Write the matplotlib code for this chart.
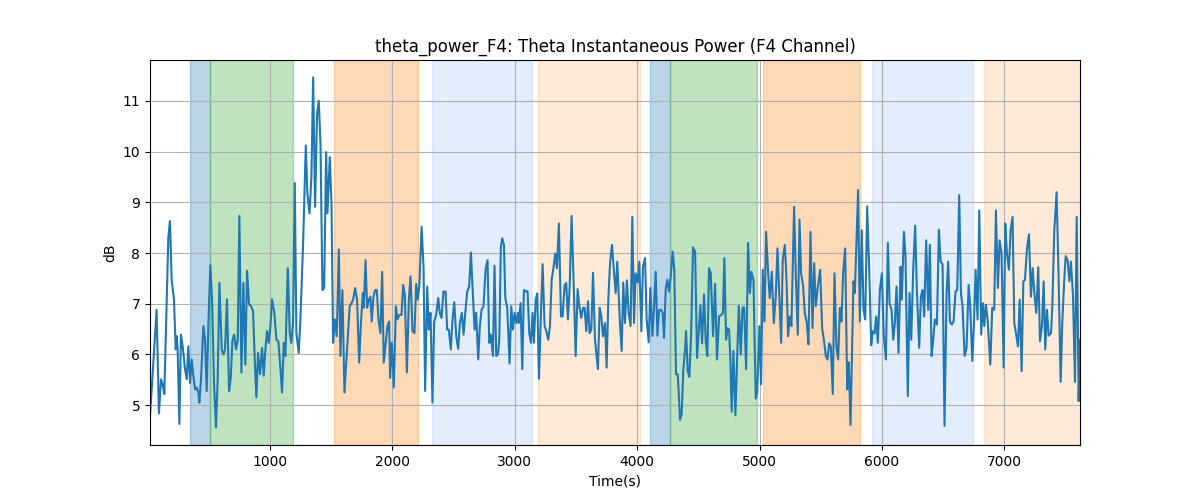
import numpy as np
import matplotlib
matplotlib.use("Agg")
import matplotlib.pyplot as plt

# tiempos (s) y potencia (dB)
t = [19, 73, 92, 109, 122, 136, 169, 182, 196, 215, 229, 237, 245, 259, 272, 286, 305, 319, 332, 346,
     360, 373, 387, 400, 414, 422, 436, 455, 469, 482, 499, 512, 526, 542, 558, 572, 586, 605, 618, 632,
     648, 665, 678, 692, 706, 722, 736, 749, 766, 782, 798, 812, 828, 845, 861, 875, 888, 902, 918, 935,
     948, 962, 975,
     989, 1003, 1016, 1035, 1052, 1068, 1085, 1098, 1112, 1125, 1145, 1161, 1174, 1188, 1202, 1215, 1234, 1248,
     1270, 1292, 1305, 1322, 1338, 1352, 1368, 1384, 1398, 1412, 1428, 1442, 1458, 1469, 1488, 1502, 1515,
     1529, 1545, 1562, 1575, 1591, 1608, 1624, 1641, 1651, 1665, 1679, 1695, 1711, 1728, 1741, 1758, 1766,
     1780, 1793, 1807, 1820, 1831, 1845, 1859, 1872, 1886, 1902, 1916, 1929,
     1959, 1973, 1981, 1995, 2011, 2028, 2041, 2055, 2074, 2088, 2101, 2118, 2134, 2148, 2164, 2180, 2194,
     2208, 2221, 2238, 2254, 2267, 2284, 2297, 2311, 2327, 2341, 2357, 2374, 2387, 2401, 2417, 2434, 2447,
     2461, 2477, 2491, 2505, 2521, 2537, 2551, 2567, 2581, 2595, 2611, 2627, 2641, 2657, 2671, 2684, 2701,
     2714, 2728, 2744, 2761, 2777, 2791, 2804, 2821, 2834, 2848, 2862, 2873, 2886,
     2897, 2911, 2922, 2938, 2957, 2971, 2984, 2998, 3012, 3025, 3033, 3047, 3061, 3074, 3091, 3104, 3118,
     3132, 3145, 3156, 3170, 3183, 3197, 3211, 3227, 3243, 3257, 3273, 3287, 3301, 3317, 3330, 3344, 3360,
     3377, 3390, 3407, 3420, 3434, 3448, 3464, 3483, 3497, 3513, 3527, 3543, 3557, 3570, 3584, 3598, 3611,
     3625, 3639, 3655, 3668, 3679, 3693, 3707, 3720, 3737, 3750, 3764, 3778, 3794, 3807, 3824, 3837,
     3859, 3873, 3886, 3900, 3916, 3930, 3946, 3960, 3974, 3987, 4004, 4017, 4034, 4047, 4064, 4077, 4094,
     4107, 4124, 4137, 4151, 4165, 4178, 4194, 4208, 4219, 4233, 4246, 4260, 4274, 4290, 4303, 4317, 4331,
     4339, 4350, 4363, 4377, 4391, 4399, 4413, 4426, 4440, 4456, 4473, 4489, 4503, 4516, 4530, 4546, 4560,
     4573, 4587, 4601, 4620, 4636, 4652, 4669, 4688, 4701, 4712, 4726, 4737, 4751, 4761, 4772, 4786,
     4802, 4830, 4846, 4860, 4873, 4890, 4906, 4920, 4933, 4950, 4960, 4969, 4980, 4999, 5012, 5026, 5040,
     5053, 5070, 5083, 5100, 5116, 5132, 5146, 5162, 5176, 5189, 5206, 5219, 5233, 5247, 5260, 5282, 5296,
     5312, 5326, 5339, 5356, 5369, 5386, 5399, 5416, 5432, 5446, 5459, 5476, 5495, 5511, 5527, 5541, 5555,
     5568, 5582, 5598, 5612, 5628, 5642, 5656, 5669, 5683, 5699, 5716, 5729, 5743,
     5767, 5778, 5805, 5819, 5835, 5849, 5863, 5879, 5895, 5912, 5923, 5939, 5953, 5966, 5983, 5999, 6015,
     6032, 6048, 6062, 6078, 6092, 6105, 6119, 6135, 6152, 6162, 6179, 6192, 6211, 6225, 6239, 6255, 6271,
     6285, 6304, 6318, 6331, 6345, 6361, 6378, 6391, 6405, 6419, 6432, 6449, 6465, 6479, 6495, 6511, 6528,
     6541, 6555, 6571, 6585, 6601, 6615, 6631, 6645, 6658, 6675, 6691, 6708,
     6721, 6738, 6751, 6765, 6781, 6795, 6811, 6825, 6836, 6849, 6863, 6885, 6901, 6917, 6931, 6947, 6961,
     6977, 6994, 7007, 7021, 7037, 7051, 7067, 7081, 7095, 7111, 7125, 7141, 7155, 7168, 7185, 7201, 7217,
     7231, 7245, 7261, 7277, 7291, 7307, 7321, 7334, 7348, 7362, 7381, 7392, 7408, 7427, 7443, 7460, 7473,
     7490, 7501, 7517, 7531, 7544, 7561, 7577, 7591, 7607, 7618]

db = [4.79, 6.88, 4.84, 5.51, 5.41, 5.22, 8.32, 8.63, 7.47, 7.08, 6.10, 6.36, 6.10, 4.63, 6.39, 6.16, 5.71, 5.51, 6.16, 5.44,
      5.90, 5.58, 5.31, 5.35, 5.25, 5.05, 5.51, 6.56, 6.29, 5.28, 6.82, 7.76, 7.08, 5.44, 4.56, 5.51, 7.41, 6.10, 6.00, 6.10,
      7.09, 5.28, 5.51, 6.26, 6.39, 6.10, 6.29, 8.73, 5.64, 7.41, 5.80, 7.65, 6.99, 6.95, 6.85, 5.90, 5.15, 6.03, 5.61, 6.13,
      5.58, 6.10, 6.46,
      6.23, 6.56, 7.09, 6.82, 6.29, 6.26, 5.71, 5.25, 6.23, 5.97, 7.70, 6.42, 6.23, 6.62, 9.38, 6.42, 6.03, 6.69,
      8.19, 10.12, 9.17, 8.78, 9.50, 11.46, 8.91, 10.74, 11.00, 10.15, 7.27, 7.31, 9.99, 8.78, 9.89, 8.97, 6.23,
      6.69, 6.36, 8.07, 5.97, 7.27, 5.25, 5.90, 6.56, 6.95, 7.01, 7.08, 7.31, 7.08, 5.84, 6.56, 7.21, 6.92,
      7.86, 6.92, 7.08, 7.14, 6.65, 7.14, 7.27, 7.27, 6.69, 6.42, 7.63, 5.84,
      6.56, 6.65, 5.54, 6.23, 5.35, 6.95, 6.69, 6.78, 6.78, 7.37, 7.18, 5.65, 7.08, 7.54, 6.46, 6.42, 7.39,
      7.08, 7.41, 8.52, 7.73, 5.28, 7.34, 6.49, 6.82, 5.05, 6.65, 6.78, 7.11, 6.82, 6.72, 7.24, 7.24, 6.49,
      6.49, 6.10, 6.69, 7.03, 6.36, 6.11, 6.62, 6.82, 6.39, 6.82, 7.24, 7.34, 8.01, 7.21, 6.49, 6.82, 5.90,
      6.56, 6.88, 6.95, 7.67, 7.86, 6.23, 6.39, 5.97, 7.75, 5.97, 6.00, 6.29, 8.12,
      8.29, 8.16, 7.11, 6.92, 5.82, 6.95, 6.49, 6.82, 6.62, 6.82, 6.62, 7.01, 5.71, 7.27, 7.24, 7.25, 6.42,
      6.23, 6.82, 6.23, 7.08, 7.20, 5.52, 6.62, 7.78, 6.56, 6.46, 6.29, 6.56, 7.47, 7.73, 7.99, 7.70, 8.58,
      6.75, 6.75, 7.37, 7.41, 6.69, 7.34, 8.73, 7.21, 5.97, 7.29, 6.95, 6.72, 6.92, 6.92, 6.46, 7.05, 6.42,
      6.49, 7.61, 6.29, 5.97, 5.71, 6.92, 6.75, 6.36, 6.62, 5.74, 7.08, 7.80, 8.16, 7.73, 7.21, 7.83,
      6.62, 6.07, 7.42, 6.62, 7.46, 6.82, 6.56, 8.71, 6.62, 7.60, 7.42, 7.83, 6.46, 7.73, 7.90, 6.69, 6.24,
      7.31, 6.37, 6.92, 7.63, 6.37, 6.87, 6.88, 6.82, 6.33, 7.29, 7.47, 7.24, 7.54, 8.03, 7.68, 5.61, 5.61,
      5.25, 4.71, 4.82, 5.71, 6.10, 6.46, 5.67, 5.56, 6.36, 8.11, 8.03, 5.93, 6.46, 6.97, 6.22, 7.18, 6.26,
      5.97, 7.70, 7.60, 6.36, 7.39, 5.90, 6.75, 6.78, 6.82, 7.90, 6.29, 6.52, 6.49, 5.90, 4.87, 6.07,
      4.80, 6.96, 6.00, 6.92, 6.93, 5.71, 8.20, 7.21, 7.63, 7.47, 6.16, 5.13, 5.25, 6.56, 5.41, 7.67, 6.65,
      8.42, 7.60, 7.11, 7.63, 6.62, 7.14, 8.09, 7.08, 6.23, 7.86, 8.16, 7.54, 6.36, 6.75, 6.56, 8.91, 7.54,
      6.39, 8.66, 7.60, 7.34, 6.82, 6.62, 6.20, 8.42, 6.52, 7.80, 6.95, 7.34, 7.67, 6.52, 6.26, 5.97, 5.90,
      6.22, 6.16, 5.22, 7.60, 6.13, 5.90, 6.92, 6.65, 7.63, 8.09, 5.31, 5.85, 4.61,
      7.44, 7.21, 9.24, 6.65, 8.45, 6.88, 6.69, 8.92, 7.73, 6.18, 6.46, 6.41, 6.75, 6.23, 7.27, 7.60, 6.36,
      5.90, 8.20, 7.01, 6.88, 6.29, 6.62, 7.34, 6.03, 7.73, 7.08, 8.42, 7.93, 5.18, 7.21, 6.29, 7.67, 8.54,
      7.27, 6.13, 7.14, 7.27, 6.75, 8.25, 6.88, 8.16, 5.97, 6.29, 6.69, 6.59, 8.46, 7.83, 7.78, 4.59, 7.21,
      7.83, 6.65, 6.59, 6.65, 7.24, 7.27, 9.14, 7.21, 6.95, 5.97, 6.13, 7.37,
      6.95, 5.87, 6.56, 7.67, 6.69, 8.84, 6.39, 7.01, 6.56, 6.98, 6.69, 5.80, 6.92, 6.88, 8.84, 7.31, 8.25,
      7.99, 5.74, 8.58, 7.99, 7.67, 8.45, 8.71, 6.62, 6.42, 6.16, 7.08, 5.67, 7.44, 7.47, 8.09, 8.37, 7.14,
      7.70, 7.21, 6.82, 7.72, 6.26, 6.56, 7.44, 6.10, 6.88, 6.37, 6.42, 6.95, 8.45, 9.20, 7.54, 5.46, 6.62,
      7.50, 7.94, 7.86, 7.44, 7.83, 7.14, 5.46, 8.71, 5.08, 6.29]

# intervalos sombreados: inicio, fin, color, alpha
span_start = [346, 509, 1524, 2325, 3192, 4107, 4271, 5030, 5915, 6830]
span_end = [509, 1188, 2211, 3143, 4026, 4271, 4982, 5823, 6740, 7700]
span_color = ['tab:blue', 'tab:green', 'tab:orange', 'cornflowerblue', 'tab:orange',
              'tab:blue', 'tab:green', 'tab:orange', 'cornflowerblue', 'tab:orange']
span_alpha = [0.3, 0.3, 0.3, 0.17, 0.16, 0.3, 0.3, 0.3, 0.17, 0.16]

fig, ax = plt.subplots(figsize=(12, 5))
for s, e, c, a in zip(span_start, span_end, span_color, span_alpha):
    ax.axvspan(s, e, color=c, alpha=a)
ax.plot(t, db, color='tab:blue')
ax.set_xlim(t[0], t[-1])
ax.set_title('theta_power_F4: Theta Instantaneous Power (F4 Channel)')
ax.set_xlabel('Time(s)')
ax.set_ylabel('dB')
ax.grid(True)
plt.savefig('out.png', dpi=100)
